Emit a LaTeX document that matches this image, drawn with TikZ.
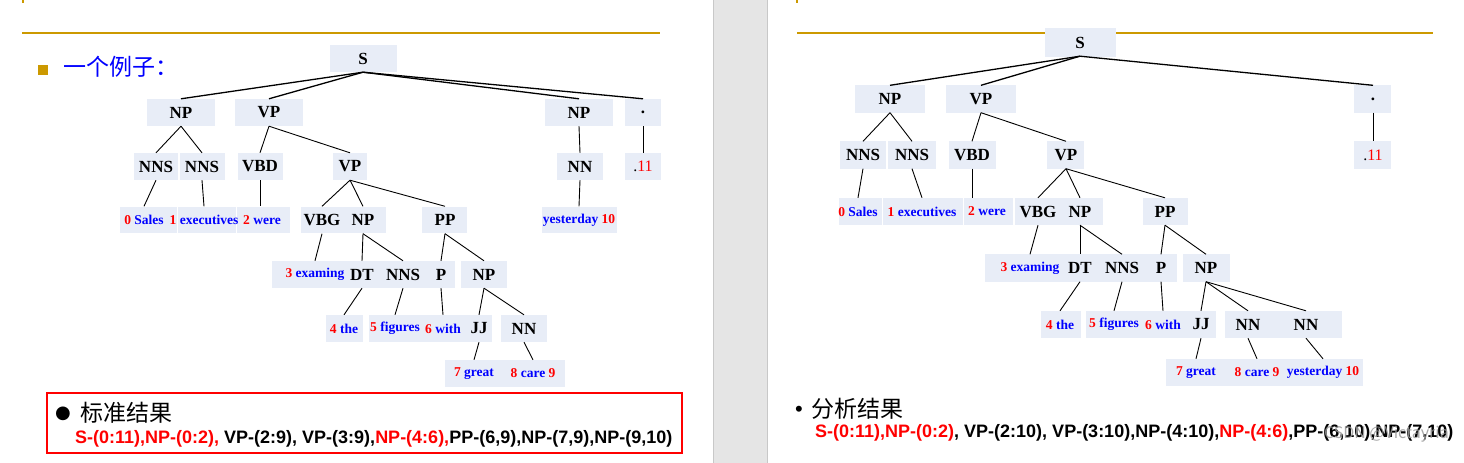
\documentclass[tikz,border=0pt]{standalone}
\usepackage{fontspec}
\newfontfamily\treeserif{Liberation Serif}
\newfontfamily\listsans{Liberation Sans}
\newfontfamily\cjk{Noto Sans CJK SC}
\newfontfamily\symfont{DejaVu Sans}
\definecolor{boxfill}{HTML}{E8EDF7}
\definecolor{slidegold}{HTML}{CC9900}
\definecolor{numred}{HTML}{FF0000}
\definecolor{wordblue}{HTML}{0000FF}
\definecolor{bandgray}{HTML}{E5E5E5}
\definecolor{bandedge}{HTML}{C8C8C8}
\newcommand{\idx}[1]{\textcolor{numred}{#1}}
\tikzset{
  tag/.style={font=\treeserif\bfseries\fontsize{17}{20}\selectfont, inner sep=0pt, minimum height=27pt},
  word/.style={tag, font=\treeserif\bfseries\fontsize{13.5}{16}\selectfont, text=wordblue},
  endmark/.style={tag, font=\treeserif\fontsize{16}{18}\selectfont},
  strip/.style={fill=boxfill},
  branch/.style={line width=0.9pt},
  trunk/.style={line width=1.3pt},
  plain/.style={inner sep=0pt},
  headfont/.style={font=\cjk\fontsize{23}{26}\selectfont},
  spanfont/.style={font=\listsans\bfseries\fontsize{18}{20}\selectfont},
}

\begin{document}
\begin{tikzpicture}[x=1pt, y=-1pt]
  \useasboundingbox (0,0) rectangle (1464,463);

  % gap between the two slides
  \fill[bandgray] (713,0) rectangle (767,463);
  \draw[bandedge] (713,0) -- (713,463) (767,0) -- (767,463);

  % ===== left slide: gold rule and title
  \draw[slidegold, line width=2pt] (23,0) -- (23,3);
  \draw[slidegold, line width=2.2pt] (22,33) -- (660,33);
  \fill[slidegold] (38,65) rectangle (48,75);
  \node[plain, anchor=west, headfont, text=wordblue] (ltitle) at (63,67) {一个例子：};

  % left tree: boxes
  \fill[strip] (330,45) rectangle (397,72);
  \fill[strip] (147,99) rectangle (215,126);
  \fill[strip] (235,99) rectangle (303,126);
  \fill[strip] (545,99) rectangle (613,126);
  \fill[strip] (625,99) rectangle (661,126);
  \fill[strip] (134,153) rectangle (178,180);
  \fill[strip] (180,153) rectangle (225,180);
  \fill[strip] (238,153) rectangle (283,180);
  \fill[strip] (333,153) rectangle (367,180);
  \fill[strip] (557,153) rectangle (603,180);
  \fill[strip] (625,153) rectangle (661,180);
  \fill[strip] (120,207) rectangle (177,233);
  \fill[strip] (178,207) rectangle (236,233);
  \fill[strip] (237,207) rectangle (290,233);
  \fill[strip] (301,207) rectangle (386,233);
  \fill[strip] (422,207) rectangle (467,233);
  \fill[strip] (542,207) rectangle (617,233);
  \fill[strip] (272,261) rectangle (455,288);
  \fill[strip] (461,261) rectangle (507,288);
  \fill[strip] (326,315) rectangle (363,342);
  \fill[strip] (369,315) rectangle (492,342);
  \fill[strip] (501,315) rectangle (547,342);
  \fill[strip] (445,360) rectangle (503,387);
  \fill[strip] (501,360) rectangle (565,387);

  % left tree: labels
  \node[tag] (lS) at (363,58.5) {S};
  \node[tag] (lNPa) at (181,112.5) {NP};
  \node[tag] (lVPa) at (269,112.5) {VP};
  \node[tag] (lNPb) at (579,112.5) {NP};
  \node[tag] (ldot) at (643,112.5) {.};
  \node[tag] (lNNSa) at (156,166.5) {NNS};
  \node[tag] (lNNSb) at (202,166.5) {NNS};
  \node[tag] (lVBD) at (260,166.5) {VBD};
  \node[tag] (lVPb) at (350,166.5) {VP};
  \node[tag] (lNN) at (580,166.5) {NN};
  \node[endmark] (l11) at (643,166.5) {.\idx{11}};
  \node[word] (lw0) at (144,220) {\idx{0} Sales};
  \node[word] (lw1) at (204,220) {\idx{1} executives};
  \node[word] (lw2) at (262,220) {\idx{2} were};
  \node[tag] (lVBG) at (322,220) {VBG};
  \node[tag] (lNPc) at (363,220) {NP};
  \node[tag] (lPP) at (445,220) {PP};
  \node[word] (lyest) at (579,220) {yesterday \idx{10}};
  \node[word] (lw3) at (315,274.5) {\idx{3} examing};
  \node[tag] (lDT) at (362,274.5) {DT};
  \node[tag] (lNNSc) at (403,274.5) {NNS};
  \node[tag] (lP) at (441,274.5) {P};
  \node[tag] (lNPd) at (484,274.5) {NP};
  \node[word] (lw4) at (344,328.5) {\idx{4} the};
  \node[word] (lw5) at (395,328.5) {\idx{5} figures};
  \node[word] (lw6) at (443,328.5) {\idx{6} with};
  \node[tag] (lJJ) at (479,328.5) {JJ};
  \node[tag] (lNNb) at (524,328.5) {NN};
  \node[word] (lw7) at (474,373.5) {\idx{7} great};
  \node[word] (lw8) at (533,373.5) {\idx{8} care \idx{9}};

  % left tree: branches
  \draw[trunk] (lS.south) -- (lNPa.north);
  \draw[trunk] (lS.south) -- (lVPa.north);
  \draw[trunk] (lS.south) -- (lNPb.north);
  \draw[trunk] (lS.south) -- (ldot.north);
  \draw[branch] (lNPa.south) -- (lNNSa.north);
  \draw[branch] (lNPa.south) -- (lNNSb.north);
  \draw[branch] (lVPa.south) -- (lVBD.north);
  \draw[branch] (lVPa.south) -- (lVPb.north);
  \draw[branch] (lNPb.south) -- (lNN.north);
  \draw[branch] (ldot.south) -- (l11.north);
  \draw[branch] (lNNSa.south) -- (lw0.north);
  \draw[branch] (lNNSb.south) -- (lw1.north);
  \draw[branch] (lVBD.south) -- (lVBD.south |- lw2.north);
  \draw[branch] (lNN.south) -- (lyest.north);
  \draw[branch] (lVPb.south) -- (lVBG.north);
  \draw[branch] (lVPb.south) -- (lNPc.north);
  \draw[branch] (lVPb.south) -- (lPP.north);
  \draw[branch] (lVBG.south) -- (lw3.north);
  \draw[branch] (lNPc.south) -- (lDT.north);
  \draw[branch] (lNPc.south) -- (lNNSc.north);
  \draw[branch] (lPP.south) -- (lP.north);
  \draw[branch] (lPP.south) -- (lNPd.north);
  \draw[branch] (lDT.south) -- (lw4.north);
  \draw[branch] (lNNSc.south) -- (lw5.north);
  \draw[branch] (lP.south) -- (lw6.north);
  \draw[branch] (lNPd.south) -- (lJJ.north);
  \draw[branch] (lNPd.south) -- (lNNb.north);
  \draw[branch] (lJJ.south) -- (lw7.north);
  \draw[branch] (lNNb.south) -- (lw8.north);

  % left result
  \draw[red, line width=2pt] (47,393) rectangle (682,453);
  \node[plain, font=\symfont\fontsize{18}{20}\selectfont] (lbul) at (63,414) {●};
  \node[plain, anchor=west, headfont] (lhead) at (80,413) {标准结果};
  \node[plain, anchor=west, spanfont] (lspans) at (75,439)
    {\idx{S-(0:11),NP-(0:2),} VP-(2:9), VP-(3:9),\idx{NP-(4:6),}PP-(6,9),NP-(7,9),NP-(9,10)};

  % ===== right slide: gold rule
  \draw[slidegold, line width=2pt] (797,0) -- (797,3);
  \draw[slidegold, line width=2.2pt] (797,33) -- (1433,33);

  % right tree: boxes
  \fill[strip] (1045,28) rectangle (1116,57);
  \fill[strip] (855,85) rectangle (925,113);
  \fill[strip] (946,85) rectangle (1016,113);
  \fill[strip] (1354,85) rectangle (1391,113);
  \fill[strip] (840,141) rectangle (886,169);
  \fill[strip] (888,141) rectangle (936,169);
  \fill[strip] (949,141) rectangle (996,169);
  \fill[strip] (1047,141) rectangle (1084,169);
  \fill[strip] (1354,141) rectangle (1391,169);
  \fill[strip] (839,198) rectangle (882,225);
  \fill[strip] (883,198) rectangle (963,225);
  \fill[strip] (964,198) rectangle (1013,225);
  \fill[strip] (1015,198) rectangle (1103,225);
  \fill[strip] (1143,198) rectangle (1188,225);
  \fill[strip] (985,254) rectangle (1177,282);
  \fill[strip] (1183,254) rectangle (1230,282);
  \fill[strip] (1041,311) rectangle (1081,338);
  \fill[strip] (1086,311) rectangle (1216,338);
  \fill[strip] (1225,311) rectangle (1342,338);
  \fill[strip] (1166,359) rectangle (1228,386);
  \fill[strip] (1223,359) rectangle (1363,386);

  % right tree: labels
  \node[tag] (rS) at (1080,42.5) {S};
  \node[tag] (rNPa) at (890,99) {NP};
  \node[tag] (rVPa) at (981,99) {VP};
  \node[tag] (rdot) at (1373,99) {.};
  \node[tag] (rNNSa) at (863,155) {NNS};
  \node[tag] (rNNSb) at (912,155) {NNS};
  \node[tag] (rVBD) at (972,155) {VBD};
  \node[tag] (rVPb) at (1066,155) {VP};
  \node[endmark] (r11) at (1373,155) {.\idx{11}};
  \node[word] (rw0) at (858,211.5) {\idx{0} Sales};
  \node[word] (rw1) at (922,211.5) {\idx{1} executives};
  \node[word] (rw2) at (987,211.5) {\idx{2} were};
  \node[tag] (rVBG) at (1038,211.5) {VBG};
  \node[tag] (rNPc) at (1080,211.5) {NP};
  \node[tag] (rPP) at (1165,211.5) {PP};
  \node[word] (rw3) at (1030,268) {\idx{3} examing};
  \node[tag] (rDT) at (1080,268) {DT};
  \node[tag] (rNNSc) at (1122,268) {NNS};
  \node[tag] (rP) at (1161,268) {P};
  \node[tag] (rNPd) at (1206,268) {NP};
  \node[word] (rw4) at (1060,324.5) {\idx{4} the};
  \node[word] (rw5) at (1114,324.5) {\idx{5} figures};
  \node[word] (rw6) at (1163,324.5) {\idx{6} with};
  \node[tag] (rJJ) at (1201,324.5) {JJ};
  \node[tag] (rNNa) at (1248,324.5) {NN};
  \node[tag] (rNNb) at (1306,324.5) {NN};
  \node[word] (rw7) at (1196,372.5) {\idx{7} great};
  \node[word] (rw8) at (1257,372.5) {\idx{8} care \idx{9}};
  \node[word] (ryest) at (1323,372.5) {yesterday \idx{10}};

  % right tree: branches
  \draw[trunk] (rS.south) -- (rNPa.north);
  \draw[trunk] (rS.south) -- (rVPa.north);
  \draw[trunk] (rS.south) -- (rdot.north);
  \draw[branch] (rNPa.south) -- (rNNSa.north);
  \draw[branch] (rNPa.south) -- (rNNSb.north);
  \draw[branch] (rVPa.south) -- (rVBD.north);
  \draw[branch] (rVPa.south) -- (rVPb.north);
  \draw[branch] (rdot.south) -- (r11.north);
  \draw[branch] (rNNSa.south) -- (rw0.north);
  \draw[branch] (rNNSb.south) -- (rw1.north);
  \draw[branch] (rVBD.south) -- (rVBD.south |- rw2.north);
  \draw[branch] (rVPb.south) -- (rVBG.north);
  \draw[branch] (rVPb.south) -- (rNPc.north);
  \draw[branch] (rVPb.south) -- (rPP.north);
  \draw[branch] (rVBG.south) -- (rw3.north);
  \draw[branch] (rNPc.south) -- (rDT.north);
  \draw[branch] (rNPc.south) -- (rNNSc.north);
  \draw[branch] (rPP.south) -- (rP.north);
  \draw[branch] (rPP.south) -- (rNPd.north);
  \draw[branch] (rDT.south) -- (rw4.north);
  \draw[branch] (rNNSc.south) -- (rw5.north);
  \draw[branch] (rP.south) -- (rw6.north);
  \draw[branch] (rNPd.south) -- (rJJ.north);
  \draw[branch] (rNPd.south) -- (rNNa.north);
  \draw[branch] (rNPd.south) -- (rNNb.north);
  \draw[branch] (rJJ.south) -- (rw7.north);
  \draw[branch] (rNNa.south) -- (rw8.north);
  \draw[branch] (rNNb.south) -- (ryest.north);

  % right result
  \node[plain, font=\listsans\fontsize{22}{24}\selectfont] (rbul) at (799,411) {•};
  \node[plain, anchor=west, headfont] (rhead) at (811,409) {分析结果};
  \node[plain, anchor=west, spanfont] (rspans) at (815,433)
    {\idx{S-(0:11),NP-(0:2)}, VP-(2:10), VP-(3:10),NP-(4:10),\idx{NP-(4:6)},PP-(6,10),NP-(7,10)};
  \node[plain, anchor=east, font=\cjk\fontsize{16}{18}\selectfont, text=black!40, opacity=0.85] (mark) at (1449,434) {CSDN @Victayria};
\end{tikzpicture}
\end{document}
